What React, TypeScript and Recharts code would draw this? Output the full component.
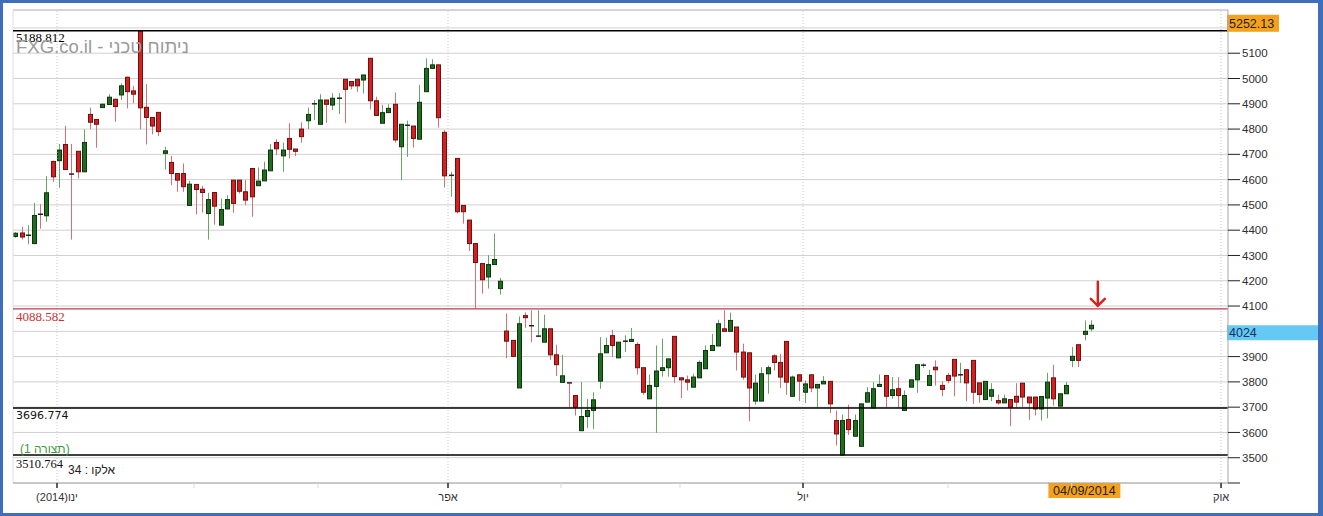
import { ComposedChart, Bar, XAxis, YAxis, CartesianGrid, ReferenceLine, ReferenceDot } from "recharts"

// daily candles, late Dec 2013 -> 04/09/2014
const opens = [
  4375, 4389, 4378, 4347, 4463, 4457, 4672, 4675, 4739, 4622,
  4712, 4631, 4858, 4838, 4885, 4897, 4918, 4935, 5005, 4951,
  5188, 4886, 4846, 4866, 4704, 4668, 4624, 4624, 4498, 4581,
  4562, 4466, 4549, 4420, 4484, 4598, 4598, 4552, 4644, 4576,
  4595, 4635, 4747, 4694, 4763, 4721, 4800, 4833, 4896, 4819,
  4915, 4895, 4920, 4997, 4988, 4997, 4994, 5080, 4912, 4823,
  4865, 4898, 4730, 4812, 4812, 4760, 4948, 5040, 5054, 4787,
  4613, 4684, 4498, 4440, 4347, 4268, 4215, 4264, 4169, 4001,
  3964, 3776, 4062, 4022, 3978, 3957, 4010, 3907, 3798, 3796,
  3746, 3607, 3663, 3687, 3803, 3915, 3983, 3895, 3960, 3960,
  3948, 3856, 3733, 3782, 3845, 3856, 3980, 3816, 3808, 3779,
  3816, 3852, 3924, 3942, 4010, 4000, 4017, 3918, 3915, 3724,
  3724, 3832, 3903, 3877, 3960, 3743, 3828, 3759, 3828, 3776,
  3792, 3802, 3647, 3511, 3651, 3585, 3545, 3720, 3697, 3782,
  3825, 3746, 3773, 3687, 3779, 3808, 3865, 3786, 3858, 3786,
  3825, 3889, 3828, 3848, 3885, 3796, 3730, 3743, 3726, 3717,
  3730, 3743, 3795, 3740, 3740, 3693, 3736, 3816, 3704, 3753,
  3885, 3947, 3988, 4010,
]
const highs = [
  4392, 4414, 4420, 4508, 4503, 4614, 4675, 4741, 4813, 4741,
  4714, 4799, 4885, 4840, 4902, 4938, 4920, 4981, 5007, 4971,
  5188.812, 4978, 4846, 4866, 4730, 4694, 4624, 4664, 4595, 4581,
  4575, 4548, 4549, 4525, 4538, 4598, 4598, 4598, 4644, 4648,
  4671, 4741, 4760, 4747, 4823, 4721, 4827, 4885, 4915, 4938,
  4915, 4942, 4942, 4997, 4988, 4997, 5014, 5080, 4928, 4896,
  4898, 4945, 4819, 4833, 4812, 4975, 5080, 5076, 5054, 4796,
  4631, 4684, 4498, 4440, 4347, 4268, 4301, 4387, 4211, 4070,
  3964, 4059, 4075, 4083, 4083, 4066, 4010, 3947, 3907, 3796,
  3746, 3799, 3733, 3759, 3977, 3975, 4006, 3957, 3984, 4013,
  3957, 3856, 3829, 3944, 3971, 3891, 3980, 3816, 3825, 3832,
  3885, 3944, 3990, 4046, 4083, 4074, 4017, 3951, 3915, 3829,
  3858, 3865, 3909, 3911, 3960, 3825, 3828, 3806, 3828, 3790,
  3823, 3802, 3687, 3671, 3710, 3671, 3713, 3779, 3799, 3829,
  3825, 3819, 3819, 3766, 3808, 3868, 3874, 3848, 3885, 3802,
  3836, 3889, 3876, 3848, 3885, 3796, 3802, 3795, 3750, 3750,
  3730, 3795, 3795, 3740, 3740, 3742, 3836, 3868, 3753, 3799,
  3938, 3947, 4043, 4043,
]
const lows = [
  4370, 4363, 4344, 4345, 4406, 4433, 4591, 4568, 4640, 4363,
  4605, 4631, 4800, 4726, 4885, 4897, 4829, 4915, 4882, 4902,
  4799, 4739, 4779, 4772, 4640, 4578, 4552, 4552, 4498, 4462,
  4470, 4363, 4422, 4420, 4484, 4469, 4545, 4499, 4453, 4576,
  4595, 4635, 4697, 4631, 4684, 4693, 4746, 4800, 4836, 4819,
  4825, 4875, 4860, 4823, 4957, 4948, 4941, 4878, 4854, 4823,
  4865, 4747, 4598, 4690, 4727, 4760, 4948, 5040, 4806, 4569,
  4532, 4466, 4426, 4318, 4088.582, 4149, 4169, 4264, 4145, 3894,
  3898, 3776, 4014, 3957, 3977, 3957, 3887, 3823, 3798, 3700,
  3667, 3607, 3618, 3614, 3773, 3915, 3898, 3895, 3918, 3960,
  3829, 3749, 3733, 3598, 3821, 3821, 3795, 3736, 3766, 3779,
  3816, 3852, 3924, 3942, 4000, 4000, 3845, 3808, 3644, 3710,
  3724, 3753, 3845, 3776, 3749, 3743, 3724, 3716, 3759, 3697,
  3792, 3676, 3548, 3510.764, 3590, 3585, 3545, 3720, 3697, 3782,
  3697, 3733, 3697, 3687, 3779, 3757, 3856, 3786, 3786, 3743,
  3795, 3743, 3795, 3724, 3713, 3717, 3730, 3724, 3710, 3717,
  3625, 3700, 3700, 3650, 3667, 3647, 3656, 3706, 3704, 3753,
  3858, 3858, 3964, 4000,
]
const closes = [
  4388, 4373, 4380, 4458, 4460, 4548, 4611, 4717, 4640, 4619,
  4631, 4747, 4827, 4819, 4898, 4926, 4889, 4971, 4948, 4938,
  4884, 4846, 4812, 4790, 4714, 4624, 4598, 4572, 4582, 4561,
  4549, 4521, 4495, 4482, 4521, 4506, 4554, 4519, 4532, 4594,
  4638, 4717, 4722, 4717, 4720, 4712, 4770, 4858, 4900, 4915,
  4898, 4922, 4922, 4957, 4971, 4971, 5014, 4912, 4854, 4865,
  4882, 4757, 4819, 4815, 4763, 4906, 5040, 5054, 4845, 4615,
  4617, 4473, 4473, 4347, 4272, 4204, 4264, 4284, 4198, 3961,
  3901, 4030, 4054, 4020, 3981, 4010, 3907, 3868, 3824, 3794,
  3700, 3663, 3687, 3729, 3911, 3944, 3944, 3957, 3961, 3968,
  3856, 3759, 3786, 3843, 3856, 3891, 3821, 3808, 3799, 3819,
  3877, 3924, 3944, 4030, 4000, 4043, 3918, 3819, 3776, 3795,
  3832, 3856, 3877, 3819, 3799, 3819, 3803, 3792, 3776, 3790,
  3802, 3713, 3594, 3647, 3611, 3647, 3713, 3757, 3773, 3790,
  3743, 3769, 3746, 3746, 3808, 3868, 3866, 3825, 3848, 3770,
  3806, 3823, 3828, 3796, 3759, 3750, 3802, 3769, 3717, 3733,
  3700, 3720, 3740, 3717, 3693, 3742, 3799, 3733, 3753, 3786,
  3901, 3885, 4000, 4024,
]

// month starts, in candle-index units
const monthTicks = [6.76, 28.8, 48.74, 69.66, 87.84, 106.98, 126.77, 150.1, 170, 194.02]
const monthLabels = ["(2014)ינו", "", "", "אפר", "", "", "יול", "", "", "אוק"]
const quarterTicks = [6.76, 69.66, 126.77, 194.02]
const priceTicks = [3400, 3500, 3600, 3700, 3800, 3900, 4000, 4100, 4200, 4300, 4400, 4500, 4600, 4700, 4800, 4900, 5000, 5100, 5200]
// ticks hidden under the price boxes on the right axis
const coveredTicks = [4000, 5200]
const unlabeledTicks = [3400]

const highLevel = 5188.812
const resistLevel = 4088.582
const supportLevel = 3696.774
const lowLevel = 3510.764
const maxMark = 5252.13
const lastClose = 4024
const lastDate = "04/09/2014"

const candles = opens.map((open, i) => ({
  i,
  open,
  high: highs[i],
  low: lows[i],
  close: closes[i],
}))
const lastIdx = candles.length - 1

const SANS = "Liberation Sans, DejaVu Sans, sans-serif"
const SERIF = "Liberation Serif, DejaVu Serif, serif"

function Candle(props: any) {
  const { x, y, width, height, payload } = props
  if (!payload) return null
  const { open, close, high, low } = payload
  const top = Math.min(y, y + height)
  const h = Math.abs(height)
  const k = h / (high - low || 1)
  const cx = Math.round(x + width / 2) + 0.5
  const up = close >= open
  const bTop = top + (high - Math.max(open, close)) * k
  const bH = Math.abs(open - close) * k
  return (
    <g>
      <line x1={cx} x2={cx} y1={top} y2={top + h} stroke={up ? "#66a566" : "#d27272"} strokeWidth={1} />
      {bH < 1.5 ? (
        <line x1={cx - 2.5} x2={cx + 2.5} y1={bTop} y2={bTop} stroke="#222" strokeWidth={1.5} />
      ) : (
        <rect
          x={cx - 2}
          y={bTop}
          width={4}
          height={bH}
          fill={up ? "#1f6e1f" : "#d42020"}
          stroke={up ? "#0e330e" : "#6e1010"}
          strokeWidth={1}
        />
      )}
    </g>
  )
}

function MonthTick({ x, y, payload }: any) {
  const k = monthTicks.indexOf(payload.value)
  const label = monthLabels[k] || ""
  const major = label !== ""
  return (
    <g>
      <line x1={x} x2={x} y1={y} y2={y + 5} stroke={major ? "#333" : "#dadada"} strokeWidth={major ? 1.6 : 1} />
      {major && (
        <text x={x} y={y + 18} textAnchor="middle" fontSize={11} fill="#333" fontFamily={SANS}>
          {label}
        </text>
      )}
    </g>
  )
}

// right axis tick: short dark line + label, skipped where a price box covers it
function PriceTick({ x, y, payload }: any) {
  const v = payload.value
  if (coveredTicks.includes(v)) return null
  return (
    <g>
      <line x1={x - 14} x2={x - 2} y1={y} y2={y} stroke="#222" />
      {!unlabeledTicks.includes(v) && (
        <text x={x} y={y} dy="0.36em" fill="#2e2e2e" fontSize={11.5} fontFamily={SANS}>
          {v}
        </text>
      )}
    </g>
  )
}

const levelLabel = (text: string, color: string, dy: number, font: string, size: number) => (p: any) => (
  <text x={p.viewBox.x + 3} y={p.viewBox.y + dy} fill={color} fontSize={size} fontFamily={font}>
    {text}
  </text>
)

const axisBox = (text: string, bg: string, fg: string, w: number, h: number) => (p: any) => (
  <g>
    <rect x={p.viewBox.x + p.viewBox.width - 1} y={p.viewBox.y} width={w} height={h} fill={bg} />
    <text x={p.viewBox.x + p.viewBox.width + 1} y={p.viewBox.y + h - 3.5} fill={fg} fontSize={12.5} fontFamily={SANS}>
      {text}
    </text>
  </g>
)

const dateBox = (p: any) => (
  <g>
    <rect x={p.viewBox.x - 42} y={p.viewBox.y + p.viewBox.height} width={72} height={15} fill="#f6a11c" />
    <text x={p.viewBox.x - 6} y={p.viewBox.y + p.viewBox.height + 12} textAnchor="middle" fill="#222" fontSize={12.5} fontFamily={SANS}>
      {lastDate}
    </text>
  </g>
)

const Arrow = ({ cx, cy }: any) => (
  <g stroke="#d8201e" strokeWidth={2.5} fill="none" strokeLinecap="round">
    <line x1={cx} x2={cx} y1={cy - 25} y2={cy - 1} />
    <polyline points={`${cx - 7},${cy - 8} ${cx},${cy - 1} ${cx + 7},${cy - 8}`} />
  </g>
)

export default function App() {
  return (
    <div style={{ position: "absolute", left: 0, top: 0, width: 1323, height: 516, background: "#fff" }}>
      <ComposedChart
        width={1323}
        height={516}
        data={candles}
        margin={{ top: 10, right: 0, bottom: 0, left: 13 }}
        style={{ fontFamily: SANS }}
      >
        <CartesianGrid vertical={false} stroke="#d0d0d0" />
        <XAxis
          dataKey="i"
          type="number"
          domain={[-0.32, 195.14]}
          allowDataOverflow
          ticks={monthTicks}
          interval={0}
          height={33}
          tickSize={0}
          tickMargin={0}
          axisLine={{ stroke: "#a8a8a8" }}
          tick={<MonthTick />}
        />
        <YAxis
          orientation="right"
          width={95}
          domain={[3400, 5271]}
          allowDataOverflow
          ticks={priceTicks}
          interval={0}
          tickSize={12}
          tickMargin={2}
          axisLine={{ stroke: "#a8a8a8" }}
          tickLine={false}
          tick={<PriceTick />}
        />
        <ReferenceLine y={5271} stroke="#c4c4c4" />
        <ReferenceLine x={-0.32} stroke="#dedede" />
        {quarterTicks.map((q) => (
          <ReferenceLine key={q} x={q} stroke="#c8c8c8" strokeDasharray="1 2" />
        ))}
        <ReferenceLine y={highLevel} stroke="#000" strokeWidth={1.4} label={levelLabel("5188.812", "#000", 11.5, SERIF, 13)} />
        <ReferenceLine y={resistLevel} stroke="#c23a50" strokeWidth={1.2} label={levelLabel("4088.582", "#c8323a", 12.5, SERIF, 13)} />
        <ReferenceLine y={supportLevel} stroke="#000" strokeWidth={1.4} label={levelLabel("3696.774", "#111", 11.5, "DejaVu Sans, sans-serif", 11)} />
        <ReferenceLine y={lowLevel} stroke="#000" strokeWidth={1.4} label={levelLabel("3510.764", "#111", 13.5, SERIF, 12.5)} />
        <ReferenceLine y={maxMark} stroke="none" label={axisBox("5252.13", "#f6a11c", "#222", 52, 17)} />
        <ReferenceLine y={lastClose} stroke="none" label={axisBox("4024", "#66c8f4", "#12305e", 91, 15)} />
        <ReferenceLine x={lastIdx} stroke="none" label={dateBox} />
        <Bar dataKey={(d: any) => [d.low, d.high]} barSize={5} shape={<Candle />} isAnimationActive={false} />
        <ReferenceDot x={174.2} y={4097} r={0} stroke="none" fill="none" shape={(p: any) => <Arrow {...p} />} />
      </ComposedChart>
      <svg width={1323} height={516} style={{ position: "absolute", left: 0, top: 0, pointerEvents: "none" }}>
        <text x={16} y={53} fontSize={18.5} fill="#9a9a9a" fontFamily={SANS}>
          FXG.co.il - ניתוח טכני
        </text>
        <text x={20} y={453} fontSize={12} fill="#3c9a3c" fontFamily={SANS}>
          (תצורה 1)
        </text>
        <text x={68} y={474} fontSize={12} fill="#222" fontFamily={SANS}>
          34 : אלקו
        </text>
      </svg>
      <div
        style={{
          position: "absolute",
          left: 0,
          top: 0,
          width: 1323,
          height: 516,
          boxSizing: "border-box",
          borderStyle: "solid",
          borderColor: "#3f6fba",
          borderWidth: "3px 5px 3px 3px",
          pointerEvents: "none",
        }}
      />
    </div>
  )
}
